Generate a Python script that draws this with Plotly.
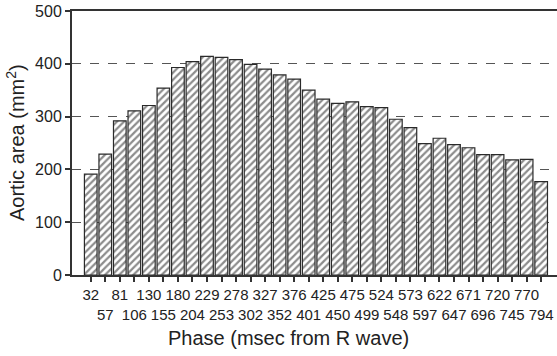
import plotly.graph_objects as go

phase_ms = [32, 57, 81, 106, 130, 155, 180, 204, 229, 253, 278, 302, 327, 352, 376, 401,
            425, 450, 475, 499, 524, 548, 573, 597, 622, 647, 671, 696, 720, 745, 770, 794]
aortic_area = [191, 229, 292, 311, 321, 354, 393, 404, 414, 412, 408, 399, 390, 379, 371, 350,
               333, 325, 328, 319, 317, 295, 279, 249, 259, 247, 241, 228, 228, 218, 219, 177]
y_ticks = [0, 100, 200, 300, 400, 500]
x_title = "Phase (msec from R wave)"
y_title = "Aortic area (mm<sup>2</sup>)"

idx = list(range(len(phase_ms)))
tick_text = [str(v) if i % 2 == 0 else "<br>" + str(v) for i, v in enumerate(phase_ms)]

font_main = "Liberation Sans, Arial, Helvetica, sans-serif"
ink = "#222222"

fig = go.Figure(go.Bar(
    x=idx, y=aortic_area,
    marker=dict(color="white",
                line=dict(color="#2a2a2a", width=1.2),
                pattern=dict(shape="/", fgcolor="#1a1a1a", bgcolor="white", size=5, solidity=0.45)),
    width=0.87,
))

fig.update_layout(
    width=557, height=356,
    margin=dict(l=72, r=0, t=11, b=81),
    paper_bgcolor="white", plot_bgcolor="white",
    showlegend=False,
    font=dict(family=font_main, color=ink),
    annotations=[
        dict(text=x_title, xref="paper", yref="paper", x=0.4454, y=-0.2386,
             xanchor="center", yanchor="middle", showarrow=False,
             font=dict(size=20, color=ink)),
        dict(text=y_title, xref="paper", yref="paper", x=-0.1175, y=0.5,
             xanchor="center", yanchor="middle", showarrow=False, textangle=-90,
             font=dict(size=20, color=ink)),
    ],
)
fig.update_xaxes(
    range=[-1.29, 32.09], tickmode="array", tickvals=idx, ticktext=tick_text,
    tickangle=0, automargin=False, ticklabeloverflow="allow",
    ticks="outside", ticklen=5, tickcolor="#333333", tickwidth=1.5,
    showline=True, linecolor="#333333", linewidth=2, mirror=True,
    showgrid=False, zeroline=False,
    tickfont=dict(family=font_main, size=15, color=ink),
)
fig.update_yaxes(
    range=[0, 500], tickmode="array", tickvals=y_ticks, automargin=False,
    ticklabeloverflow="allow",
    ticks="outside", ticklen=5, tickcolor="#333333", tickwidth=1.5,
    showline=True, linecolor="#333333", linewidth=2,
    showgrid=True, gridcolor="#555555", griddash="dash", gridwidth=1,
    zeroline=False,
    tickfont=dict(family=font_main, size=16, color=ink),
)

fig.write_html("out.html",
               config={"displayModeBar": False},
               post_script="document.body.style.margin='0px';document.body.style.overflow='hidden';")
